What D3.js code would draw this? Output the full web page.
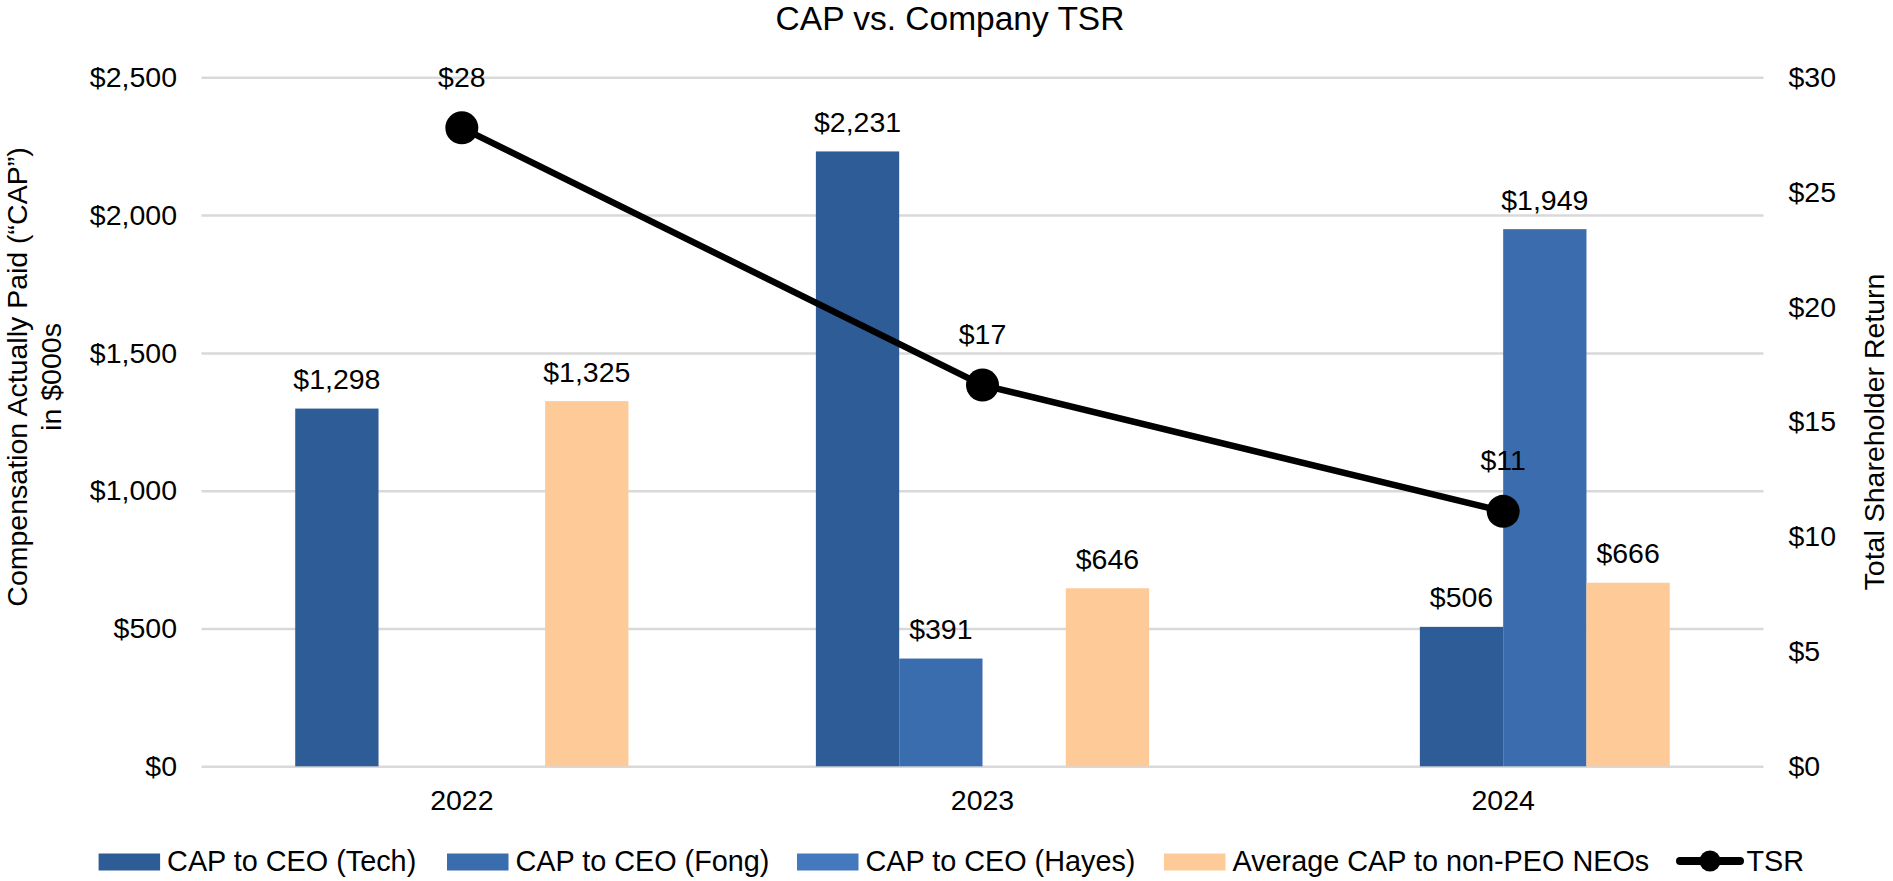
<!DOCTYPE html>
<html>
<head>
<meta charset="utf-8">
<script src="https://cdn.jsdelivr.net/npm/d3@7/dist/d3.min.js"></script>
<style>
  html, body { margin: 0; padding: 0; background: #ffffff; }
  svg { display: block; }
  text { font-family: "Liberation Sans", Arial, Helvetica, sans-serif; fill: #000; }
</style>
</head>
<body>
<svg id="chart" width="1893" height="881"></svg>
<script>
// ---------------- data ----------------
const years = ["2022", "2023", "2024"];
const seriesKeys = ["tech", "fong", "hayes", "avgNeo"];
const seriesNames = ["CAP to CEO (Tech)", "CAP to CEO (Fong)", "CAP to CEO (Hayes)", "Average CAP to non-PEO NEOs"];
const capTech = [1298, 2231, null];
const capFong = [null, 391, 506];
const capHayes = [null, null, 1949];
const capAvgNeo = [1325, 646, 666];
const tsrValues = [27.8, 16.6, 11.1];
const tsrLabels = ["$28", "$17", "$11"];
const leftTicks = [0, 500, 1000, 1500, 2000, 2500];
const rightTicks = [0, 5, 10, 15, 20, 25, 30];

// ---------------- styles / layout ----------------
const seriesColors = { tech: "#2E5C96", fong: "#3A6DAE", hayes: "#4579BE", avgNeo: "#FECB98" };
// per-bar colour as drawn in the original
const barColorOverride = { "fong|2024": "#2E5C96", "hayes|2024": "#3B6DAE" };
const gridColor = "#D9D9D9";
const fs = 28.5;
const legendFs = 28.8;
const FONT = '"Liberation Sans", Arial, sans-serif';
const legendX = [98.6, 447, 797, 1164, 1676];

const seriesData = { tech: capTech, fong: capFong, hayes: capHayes, avgNeo: capAvgNeo };

const svg = d3.select("#chart");
const plot = { left: 201.5, right: 1763.5, top: 77.3, bottom: 766.3 };

const x0 = d3.scaleBand().domain(years).range([plot.left, plot.right])
  .paddingInner(0.36).paddingOuter(0.18);
const x1 = d3.scaleBand().domain(seriesKeys).range([0, x0.bandwidth()]).padding(0);
const yL = d3.scaleLinear().domain([0, 2500]).range([plot.bottom, plot.top]);
const yR = d3.scaleLinear().domain([0, 30]).range([plot.bottom, plot.top]);

const fmtL = v => "$" + d3.format(",")(v);
const fmtR = v => "$" + v;

function styleText(sel) {
  sel.style("font-size", fs + "px").style("font-family", FONT).attr("fill", "#000");
}

// Title
svg.append("text").attr("x", 950).attr("y", 30).attr("text-anchor", "middle")
  .style("font-size", "33.5px").style("font-family", FONT).text("CAP vs. Company TSR");

// Gridlines + left axis
const axL = d3.axisLeft(yL).tickValues(leftTicks).tickFormat(fmtL)
  .tickSize(-(plot.right - plot.left)).tickPadding(24.5);
const gL = svg.append("g").attr("transform", `translate(${plot.left},0)`).call(axL);
gL.select(".domain").remove();
gL.selectAll(".tick line").attr("stroke", gridColor).attr("stroke-width", 2.5);
styleText(gL.selectAll(".tick text"));

// Right axis
const axR = d3.axisRight(yR).tickValues(rightTicks).tickFormat(fmtR).tickSize(0).tickPadding(25);
const gR = svg.append("g").attr("transform", `translate(${plot.right},0)`).call(axR);
gR.select(".domain").remove();
styleText(gR.selectAll(".tick text"));

// X axis labels
const axX = d3.axisBottom(x0).tickSize(0).tickPadding(23);
const gX = svg.append("g").attr("transform", `translate(0,${plot.bottom})`).call(axX);
gX.select(".domain").remove();
gX.selectAll(".tick").attr("transform", d => `translate(${x0(d) + x0.bandwidth() / 2},0)`);
styleText(gX.selectAll(".tick text"));

// Axis titles
svg.append("text").attr("transform", "translate(27,377) rotate(-90)").attr("text-anchor", "middle")
  .style("font-size", fs + "px").text("Compensation Actually Paid (\u201CCAP\u201D)");
svg.append("text").attr("transform", "translate(61,377) rotate(-90)").attr("text-anchor", "middle")
  .style("font-size", fs + "px").text("in $000s");
svg.append("text").attr("transform", "translate(1884,432) rotate(-90)").attr("text-anchor", "middle")
  .style("font-size", fs + "px").text("Total Shareholder Return");

// Bars
const barRecords = [];
years.forEach((yr, i) => {
  seriesKeys.forEach(k => {
    const v = seriesData[k][i];
    if (v != null) barRecords.push({ year: yr, key: k, value: v });
  });
});
const gBars = svg.append("g");
gBars.selectAll("rect").data(barRecords).join("rect")
  .attr("x", d => x0(d.year) + x1(d.key))
  .attr("width", x1.bandwidth())
  .attr("y", d => yL(d.value))
  .attr("height", d => yL(0) - yL(d.value))
  .attr("fill", d => barColorOverride[d.key + "|" + d.year] || seriesColors[d.key]);
gBars.selectAll("text").data(barRecords).join("text")
  .attr("x", d => x0(d.year) + x1(d.key) + x1.bandwidth() / 2)
  .attr("y", d => yL(d.value) - 19.5)
  .attr("text-anchor", "middle")
  .style("font-size", fs + "px")
  .text(d => fmtL(d.value));

// TSR line
const tsrPts = years.map((yr, i) => ({ year: yr, value: tsrValues[i], label: tsrLabels[i] }));
const cx = d => x0(d.year) + x0.bandwidth() / 2;
svg.append("path").datum(tsrPts)
  .attr("d", d3.line().x(cx).y(d => yR(d.value)))
  .attr("fill", "none").attr("stroke", "#000").attr("stroke-width", 6.5).attr("stroke-linejoin", "round");
svg.append("g").selectAll("circle").data(tsrPts).join("circle")
  .attr("cx", cx).attr("cy", d => yR(d.value)).attr("r", 16.5).attr("fill", "#000");
svg.append("g").selectAll("text").data(tsrPts).join("text")
  .attr("x", cx).attr("y", d => yR(d.value) - 41).attr("text-anchor", "middle")
  .style("font-size", fs + "px").text(d => d.label);

// Legend
const legend = svg.append("g").attr("transform", "translate(0,870.5)");
seriesKeys.forEach((k, i) => {
  const g = legend.append("g").attr("transform", `translate(${legendX[i]},0)`);
  g.append("rect").attr("x", 0).attr("y", -17).attr("width", 61.5).attr("height", 17).attr("fill", seriesColors[k]);
  g.append("text").attr("x", 68.5).attr("y", 0).style("font-size", legendFs + "px").text(seriesNames[i]);
});
const gT = legend.append("g").attr("transform", `translate(${legendX[4]},0)`);
gT.append("line").attr("x1", 4).attr("x2", 64).attr("y1", -9.5).attr("y2", -9.5)
  .attr("stroke", "#000").attr("stroke-width", 8).attr("stroke-linecap", "round");
gT.append("circle").attr("cx", 34).attr("cy", -9.5).attr("r", 10.5).attr("fill", "#000");
gT.append("text").attr("x", 70.5).attr("y", 0).style("font-size", legendFs + "px").text("TSR");
</script>
</body>
</html>
